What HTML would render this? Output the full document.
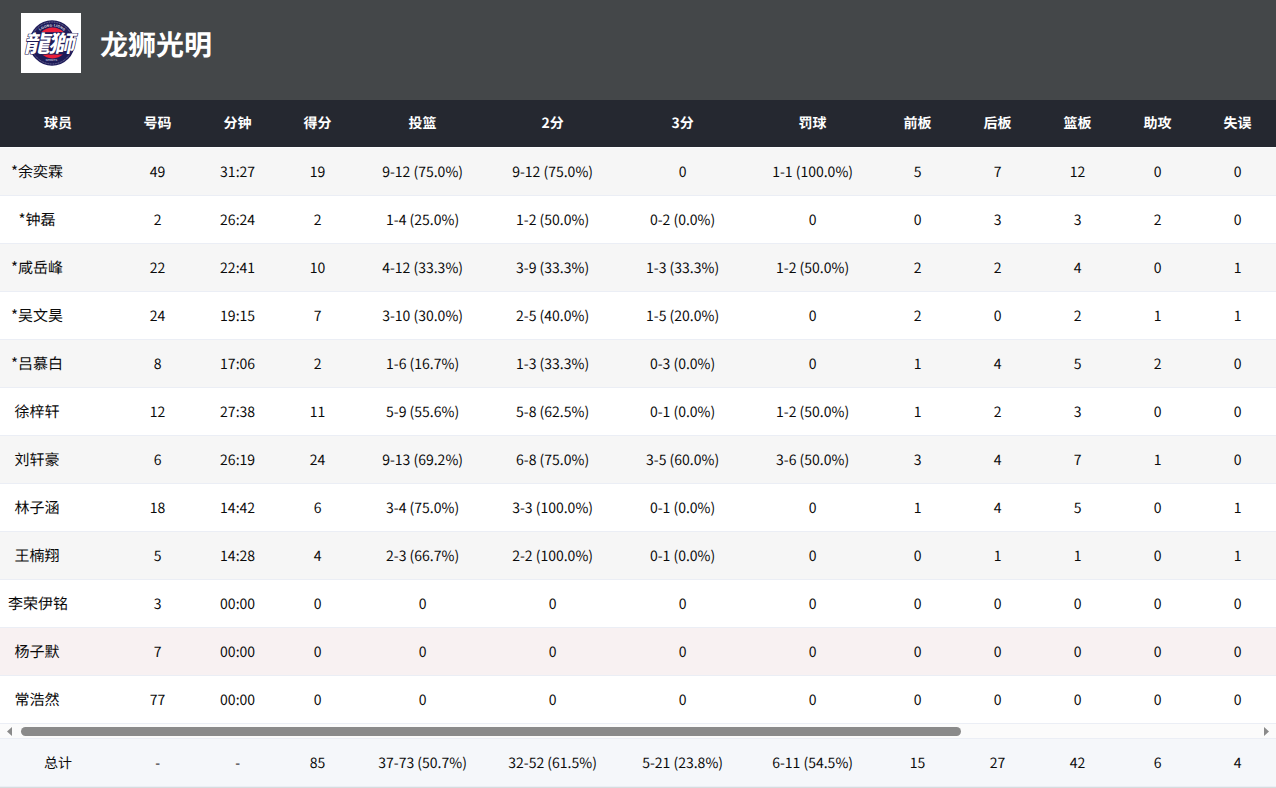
<!DOCTYPE html>
<html lang="zh-CN"><head><meta charset="utf-8"><title>龙狮光明</title>
<style>
*{box-sizing:border-box;margin:0;padding:0}
html,body{width:1276px;height:788px;overflow:hidden;background:#d6dddd}
body{text-rendering:geometricPrecision;font-family:"Noto Sans CJK SC","Liberation Sans",sans-serif;font-size:14px;color:#0a0a0a;position:relative}
.top{position:absolute;left:0;top:0;width:1276px;height:100px;background:#444749}
.logo{position:absolute;left:21px;top:13px;width:60px;height:60px;background:#fff}
.logo svg{display:block}
.title{position:absolute;left:100px;top:24px;font-size:28px;font-weight:700;color:#fff;line-height:40px;white-space:nowrap}
.tbl{position:absolute;left:0;top:100px;width:1276px;overflow:hidden}
.r,.h,.f{display:flex;width:1700px;white-space:nowrap}
.c{flex:none;text-align:center;position:relative;left:0.6px;top:1px}
.c0{width:117px}.c1,.c2,.c3{width:80px}.c4,.c5,.c6,.c7{width:130px}.c8,.c9,.c10,.c11,.c12{width:80px}
.h{height:47px;line-height:44px;background:#252830;color:#fff;font-weight:700;border-bottom:1px solid #252830}
.h .c0{padding-right:2px}
.sep{height:1px;background:#fbfcfd}
.r{height:48px;line-height:47px;border-bottom:1px solid #ebeef5}
.r.odd{background:#f6f6f6}.r.even{background:#fff}.r.hov{background:#f8f1f2}
.r .c0{padding-left:8px;font-size:15px;text-align:left;top:0;left:0}
.nm{width:58px;text-align:center;white-space:nowrap}
.sb{position:relative;height:15px;background:#fbfbfb;border-bottom:1px solid #ebeef5}
.thumb{position:absolute;left:21px;top:3px;width:940px;height:9px;border-radius:5px;background:#8a8a8a}
.arr{position:absolute;left:0;top:0}
.f{height:48px;line-height:47px;background:#f5f7fa;border-bottom:1px solid #ebeef5}
.f .c0{padding-right:2px}
</style></head><body>
<div class="top"><div class="logo"><svg width="60" height="60" viewBox="0 0 60 60">
<circle cx="31" cy="30" r="22.8" fill="#1e1b58"/>
<circle cx="31" cy="30" r="21" fill="none" stroke="#d8d9ea" stroke-width="0.45" stroke-dasharray="1 0.7"/>
<circle cx="31.5" cy="29.9" r="15.5" fill="#ea1f3b"/>
<rect x="12" y="19.2" width="38" height="22.3" fill="#1e1b58"/>
<g font-family="Liberation Sans, sans-serif" font-weight="700" font-size="3.3" fill="#f0f0f8"><text x="0" y="0" transform="translate(19.86,17.24) rotate(-39.0)" text-anchor="middle">L</text><text x="0" y="0" transform="translate(21.99,15.76) rotate(-30.6)" text-anchor="middle">O</text><text x="0" y="0" transform="translate(24.57,14.51) rotate(-21.3)" text-anchor="middle">O</text><text x="0" y="0" transform="translate(27.22,13.71) rotate(-12.3)" text-anchor="middle">N</text><text x="0" y="0" transform="translate(29.97,13.33) rotate(-3.3)" text-anchor="middle">G</text><text x="0" y="0" transform="translate(33.76,13.52) rotate(9.0)" text-anchor="middle">L</text><text x="0" y="0" transform="translate(35.49,13.88) rotate(14.7)" text-anchor="middle">I</text><text x="0" y="0" transform="translate(37.43,14.51) rotate(21.3)" text-anchor="middle">O</text><text x="0" y="0" transform="translate(39.93,15.72) rotate(30.3)" text-anchor="middle">N</text><text x="0" y="0" transform="translate(42.06,17.18) rotate(38.7)" text-anchor="middle">S</text></g>
<text x="30.4" y="48.4" font-family="Liberation Sans, sans-serif" font-weight="400" font-size="2.9" fill="#e4e4f0" text-anchor="middle">SPORTS</text>
<g transform="translate(27,39.2) skewX(-12) scale(1.06,0.92)">
<text x="0" y="0" text-anchor="middle" font-family="Noto Sans CJK SC, sans-serif" font-weight="700" font-size="25" fill="#fff" stroke="#1e1b58" stroke-width="1.2" paint-order="stroke" letter-spacing="-2">龍獅</text>
</g>
</svg>
</div><div class="title">龙狮光明</div></div>
<div class="tbl">
<div class="h"><div class="c c0">球员</div><div class="c c1">号码</div><div class="c c2">分钟</div><div class="c c3">得分</div><div class="c c4">投篮</div><div class="c c5">2分</div><div class="c c6">3分</div><div class="c c7">罚球</div><div class="c c8">前板</div><div class="c c9">后板</div><div class="c c10">篮板</div><div class="c c11">助攻</div><div class="c c12">失误</div></div>
<div class="sep"></div>
<div class="r odd"><div class="c c0"><div class="nm">*余奕霖</div></div><div class="c c1">49</div><div class="c c2">31:27</div><div class="c c3">19</div><div class="c c4">9-12 (75.0%)</div><div class="c c5">9-12 (75.0%)</div><div class="c c6">0</div><div class="c c7">1-1 (100.0%)</div><div class="c c8">5</div><div class="c c9">7</div><div class="c c10">12</div><div class="c c11">0</div><div class="c c12">0</div></div><div class="r even"><div class="c c0"><div class="nm">*钟磊</div></div><div class="c c1">2</div><div class="c c2">26:24</div><div class="c c3">2</div><div class="c c4">1-4 (25.0%)</div><div class="c c5">1-2 (50.0%)</div><div class="c c6">0-2 (0.0%)</div><div class="c c7">0</div><div class="c c8">0</div><div class="c c9">3</div><div class="c c10">3</div><div class="c c11">2</div><div class="c c12">0</div></div><div class="r odd"><div class="c c0"><div class="nm">*咸岳峰</div></div><div class="c c1">22</div><div class="c c2">22:41</div><div class="c c3">10</div><div class="c c4">4-12 (33.3%)</div><div class="c c5">3-9 (33.3%)</div><div class="c c6">1-3 (33.3%)</div><div class="c c7">1-2 (50.0%)</div><div class="c c8">2</div><div class="c c9">2</div><div class="c c10">4</div><div class="c c11">0</div><div class="c c12">1</div></div><div class="r even"><div class="c c0"><div class="nm">*吴文昊</div></div><div class="c c1">24</div><div class="c c2">19:15</div><div class="c c3">7</div><div class="c c4">3-10 (30.0%)</div><div class="c c5">2-5 (40.0%)</div><div class="c c6">1-5 (20.0%)</div><div class="c c7">0</div><div class="c c8">2</div><div class="c c9">0</div><div class="c c10">2</div><div class="c c11">1</div><div class="c c12">1</div></div><div class="r odd"><div class="c c0"><div class="nm">*吕慕白</div></div><div class="c c1">8</div><div class="c c2">17:06</div><div class="c c3">2</div><div class="c c4">1-6 (16.7%)</div><div class="c c5">1-3 (33.3%)</div><div class="c c6">0-3 (0.0%)</div><div class="c c7">0</div><div class="c c8">1</div><div class="c c9">4</div><div class="c c10">5</div><div class="c c11">2</div><div class="c c12">0</div></div><div class="r even"><div class="c c0"><div class="nm">徐梓轩</div></div><div class="c c1">12</div><div class="c c2">27:38</div><div class="c c3">11</div><div class="c c4">5-9 (55.6%)</div><div class="c c5">5-8 (62.5%)</div><div class="c c6">0-1 (0.0%)</div><div class="c c7">1-2 (50.0%)</div><div class="c c8">1</div><div class="c c9">2</div><div class="c c10">3</div><div class="c c11">0</div><div class="c c12">0</div></div><div class="r odd"><div class="c c0"><div class="nm">刘轩豪</div></div><div class="c c1">6</div><div class="c c2">26:19</div><div class="c c3">24</div><div class="c c4">9-13 (69.2%)</div><div class="c c5">6-8 (75.0%)</div><div class="c c6">3-5 (60.0%)</div><div class="c c7">3-6 (50.0%)</div><div class="c c8">3</div><div class="c c9">4</div><div class="c c10">7</div><div class="c c11">1</div><div class="c c12">0</div></div><div class="r even"><div class="c c0"><div class="nm">林子涵</div></div><div class="c c1">18</div><div class="c c2">14:42</div><div class="c c3">6</div><div class="c c4">3-4 (75.0%)</div><div class="c c5">3-3 (100.0%)</div><div class="c c6">0-1 (0.0%)</div><div class="c c7">0</div><div class="c c8">1</div><div class="c c9">4</div><div class="c c10">5</div><div class="c c11">0</div><div class="c c12">1</div></div><div class="r odd"><div class="c c0"><div class="nm">王楠翔</div></div><div class="c c1">5</div><div class="c c2">14:28</div><div class="c c3">4</div><div class="c c4">2-3 (66.7%)</div><div class="c c5">2-2 (100.0%)</div><div class="c c6">0-1 (0.0%)</div><div class="c c7">0</div><div class="c c8">0</div><div class="c c9">1</div><div class="c c10">1</div><div class="c c11">0</div><div class="c c12">1</div></div><div class="r even"><div class="c c0"><div class="nm">李荣伊铭</div></div><div class="c c1">3</div><div class="c c2">00:00</div><div class="c c3">0</div><div class="c c4">0</div><div class="c c5">0</div><div class="c c6">0</div><div class="c c7">0</div><div class="c c8">0</div><div class="c c9">0</div><div class="c c10">0</div><div class="c c11">0</div><div class="c c12">0</div></div><div class="r hov"><div class="c c0"><div class="nm">杨子默</div></div><div class="c c1">7</div><div class="c c2">00:00</div><div class="c c3">0</div><div class="c c4">0</div><div class="c c5">0</div><div class="c c6">0</div><div class="c c7">0</div><div class="c c8">0</div><div class="c c9">0</div><div class="c c10">0</div><div class="c c11">0</div><div class="c c12">0</div></div><div class="r even"><div class="c c0"><div class="nm">常浩然</div></div><div class="c c1">77</div><div class="c c2">00:00</div><div class="c c3">0</div><div class="c c4">0</div><div class="c c5">0</div><div class="c c6">0</div><div class="c c7">0</div><div class="c c8">0</div><div class="c c9">0</div><div class="c c10">0</div><div class="c c11">0</div><div class="c c12">0</div></div>
<div class="sb"><svg class="arr" width="1276" height="15" viewBox="0 0 1276 15"><polygon points="12,3 12,12 7,7.5" fill="#8a8a8a"/><polygon points="1264,3 1264,12 1269,7.5" fill="#8a8a8a"/></svg><div class="thumb"></div></div>
<div class="f"><div class="c c0">总计</div><div class="c c1">-</div><div class="c c2">-</div><div class="c c3">85</div><div class="c c4">37-73 (50.7%)</div><div class="c c5">32-52 (61.5%)</div><div class="c c6">5-21 (23.8%)</div><div class="c c7">6-11 (54.5%)</div><div class="c c8">15</div><div class="c c9">27</div><div class="c c10">42</div><div class="c c11">6</div><div class="c c12">4</div></div>
</div>
</body></html>
